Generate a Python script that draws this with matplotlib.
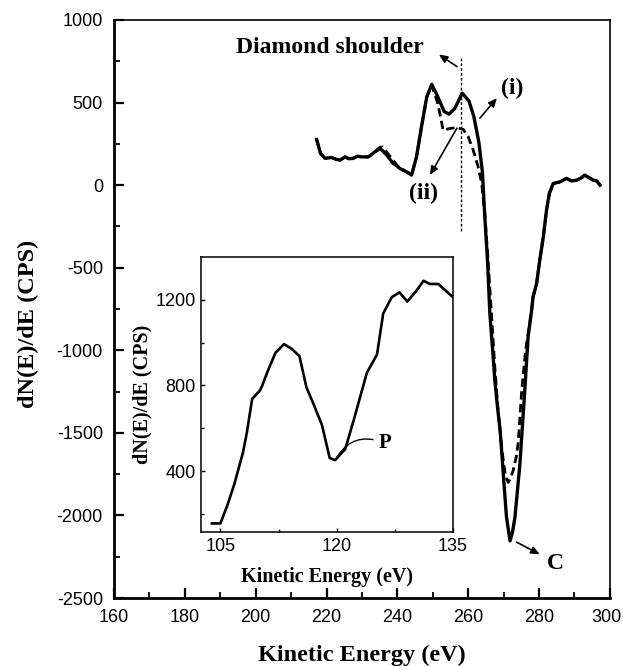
import matplotlib
matplotlib.use("Agg")
import matplotlib.pyplot as plt
import matplotlib.transforms as mtransforms
from matplotlib.ticker import MultipleLocator, FixedLocator

plt.rcParams["axes.unicode_minus"] = False

# ---------------- data ----------------
energy_i = [217.2, 218.3, 219.6, 221.4, 222.5, 223.8, 225.2, 226.3, 227.5, 228.7,
            229.9, 231.8, 233.7, 235.1, 236.0, 237.0, 238.8, 239.7, 240.7, 242.6,
            244.0, 245.4, 246.8, 248.3, 249.7, 251.3, 253.2, 254.6, 256.2, 258.3,
            260.2, 261.6, 263.0, 264.0, 264.7, 265.5, 266.1, 267.0, 267.5, 268.3,
            269.0, 270.0, 270.8, 271.8, 272.5, 273.2, 274.6, 276.0, 276.9, 277.9,
            278.3, 279.3, 280.2, 281.2, 282.1, 282.9, 284.0, 285.9, 287.8, 289.2,
            290.6, 292.0, 292.9, 294.1, 295.3, 296.3, 297.2]
signal_i = [277, 192, 162, 168, 158, 151, 171, 160, 162, 175,
            171, 171, 202, 222, 205, 182, 131, 120, 101, 81,
            61, 171, 353, 535, 610, 540, 446, 430, 464, 557,
            510, 414, 260, 80, -200, -480, -777, -1030, -1181, -1350,
            -1484, -1780, -2009, -2154, -2100, -2009, -1686, -1230, -919, -757,
            -677, -596, -454, -313, -151, -50, 10, 20, 41, 25,
            30, 45, 61, 45, 30, 25, 0]

energy_ii = [217.2, 218.3, 219.6, 221.4, 222.5, 223.8, 225.2, 226.3, 227.5, 228.7,
             229.9, 231.8, 233.7, 235.0, 235.8, 237.0, 238.8, 240.0, 240.7, 242.6,
             244.0, 245.4, 246.8, 248.3, 249.7, 251.3, 252.0, 252.9, 254.8, 256.7,
             258.6, 260.0, 261.4, 262.8, 263.8, 264.7, 265.5, 266.5, 267.5, 268.5,
             269.5, 270.5, 271.3, 272.0, 272.7, 273.6, 274.1, 275.1, 276.2, 276.9,
             277.9, 278.3, 279.3, 280.2, 281.2, 282.1, 282.9, 284.0, 285.9, 287.8,
             289.2, 290.6, 292.0, 292.9, 294.1, 295.3, 296.3, 297.2]
signal_ii = [277, 192, 162, 168, 158, 151, 171, 160, 162, 175,
             171, 171, 205, 228, 232, 200, 150, 118, 101, 81,
             61, 171, 353, 535, 606, 500, 434, 333, 343, 349,
             337, 293, 212, 111, 10, -180, -420, -760, -1100, -1380,
             -1600, -1760, -1800, -1770, -1726, -1640, -1563, -1242, -1000, -900,
             -757, -677, -596, -454, -313, -151, -50, 10, 20, 41,
             25, 30, 45, 61, 45, 30, 25, 0]

inset_energy = [103.9, 105.0, 105.9, 106.8, 107.9, 108.4, 109.1, 110.1, 110.4, 111.2,
                112.1, 113.2, 114.2, 115.2, 116.1, 117.0, 118.1, 119.1, 119.8, 121.1,
                122.2, 123.9, 125.2, 126.0, 127.1, 128.1, 129.1, 130.3, 131.2, 132.0,
                133.1, 135.0]
inset_signal = [155, 155, 239, 339, 484, 576, 737, 776, 799, 875,
                952, 993, 971, 937, 791, 714, 615, 461, 451, 502,
                638, 860, 944, 1136, 1212, 1235, 1192, 1243, 1289, 1274,
                1274, 1212]

main_xticks = [160, 180, 200, 220, 240, 260, 280, 300]
main_yticks = [-2500, -2000, -1500, -1000, -500, 0, 500, 1000]
inset_xticks = [105, 120, 135]
inset_yticks = [400, 800, 1200]

# ---------------- style ----------------
SERIF = "Liberation Serif"
SANS = "Liberation Sans"

fig = plt.figure(figsize=(6.23, 6.66), dpi=100)
ax = fig.add_axes([0.183, 0.102, 0.796, 0.868])

ax.plot(energy_i, signal_i, color="black", lw=2.4, solid_joinstyle="round")
ax.plot(energy_ii, signal_ii, color="black", lw=2.0, ls=(0, (3, 1.6)))

ax.set_xlim(160, 300)
ax.set_ylim(-2500, 1000)
ax.xaxis.set_major_locator(FixedLocator(main_xticks))
ax.yaxis.set_major_locator(FixedLocator(main_yticks))
ax.xaxis.set_minor_locator(MultipleLocator(10))
ax.yaxis.set_minor_locator(MultipleLocator(250))
ax.tick_params(which="both", direction="in", top=False, right=False)
ax.tick_params(which="major", length=7, width=1.6, labelsize=13, pad=8)
ax.tick_params(which="minor", length=4, width=1.3)
for lab in ax.get_xticklabels() + ax.get_yticklabels():
    lab.set_family(SANS)
for s in ax.spines.values():
    s.set_linewidth(1.2)
ax.spines["left"].set_linewidth(2.0)
ax.spines["bottom"].set_linewidth(2.0)

ax.set_xlabel("Kinetic Energy (eV)", family=SERIF, weight="bold", fontsize=17.5)
ax.xaxis.set_label_coords(0.5, -0.081)
ax.set_ylabel("dN(E)/dE (CPS)", family=SERIF, weight="bold", fontsize=17.5)
ax.yaxis.set_label_coords(-0.152, 0.475)

# vertical dotted line (diamond shoulder)
ax.plot([258.1, 258.1], [769, -291], color="black", lw=1.0, ls=(0, (2, 1.5)))

arrow_kw = dict(arrowstyle="-|>,head_length=0.5,head_width=0.22", color="black", lw=1.2,
                shrinkA=0, shrinkB=0)
ax.text(221, 836, "Diamond shoulder", family=SERIF, weight="bold", fontsize=17,
        ha="center", va="center")
ax.annotate("", xy=(251.7, 791), xytext=(256.8, 718), arrowprops=arrow_kw)
ax.text(272.3, 588, "(i)", family=SERIF, weight="bold", fontsize=17, ha="center", va="center")
ax.annotate("", xy=(268.1, 527), xytext=(263.3, 406), arrowprops=arrow_kw)
ax.text(247.5, -48, "(ii)", family=SERIF, weight="bold", fontsize=17, ha="center", va="center")
ax.annotate("", xy=(249.2, 61), xytext=(256.8, 345), arrowprops=arrow_kw)
ax.text(284.5, -2290, "C", family=SERIF, weight="bold", fontsize=17, ha="center", va="center")
ax.annotate("", xy=(280.2, -2235), xytext=(273.7, -2162), arrowprops=arrow_kw)

# ---------------- inset ----------------
ins = fig.add_axes([0.3226, 0.2012, 0.4045, 0.4129])
ins.plot(inset_energy, inset_signal, color="black", lw=1.9)
ins.set_xlim(102.5, 135)
ins.set_ylim(115, 1400)
ins.xaxis.set_major_locator(FixedLocator(inset_xticks))
ins.yaxis.set_major_locator(FixedLocator(inset_yticks))
ins.xaxis.set_minor_locator(FixedLocator([112.5, 127.5]))
ins.yaxis.set_minor_locator(FixedLocator([200, 600, 1000]))
ins.tick_params(which="both", direction="in", top=False, right=False)
ins.tick_params(which="major", length=3, width=1.0, labelsize=13, pad=4)
ins.tick_params(which="minor", length=2.5, width=1.0)
for lab in ins.get_xticklabels() + ins.get_yticklabels():
    lab.set_family(SANS)
for s in ins.spines.values():
    s.set_linewidth(1.1)
ins.set_xlabel("Kinetic Energy (eV)", family=SERIF, weight="bold", fontsize=14.5)
ins.xaxis.set_label_coords(0.5, -0.127)
ins.set_ylabel("dN(E)/dE (CPS)", family=SERIF, weight="bold", fontsize=14.5)
ins.yaxis.set_label_coords(-0.193, 0.5)

ins.annotate("P", xy=(119.8, 451), xytext=(125.4, 529),
             family=SERIF, weight="bold", fontsize=15, ha="left", va="center",
             arrowprops=dict(arrowstyle="-", color="black", lw=1.0,
                             connectionstyle="arc3,rad=0.45", shrinkA=2, shrinkB=0))

# nudge the last main x tick label ("300") slightly left so it stays inside the figure
fig.canvas.draw()
last = ax.get_xticklabels()[-1]
last.set_transform(last.get_transform() + mtransforms.ScaledTranslation(-3.5 / 100, 0, fig.dpi_scale_trans))

fig.savefig("out.png", dpi=100)
